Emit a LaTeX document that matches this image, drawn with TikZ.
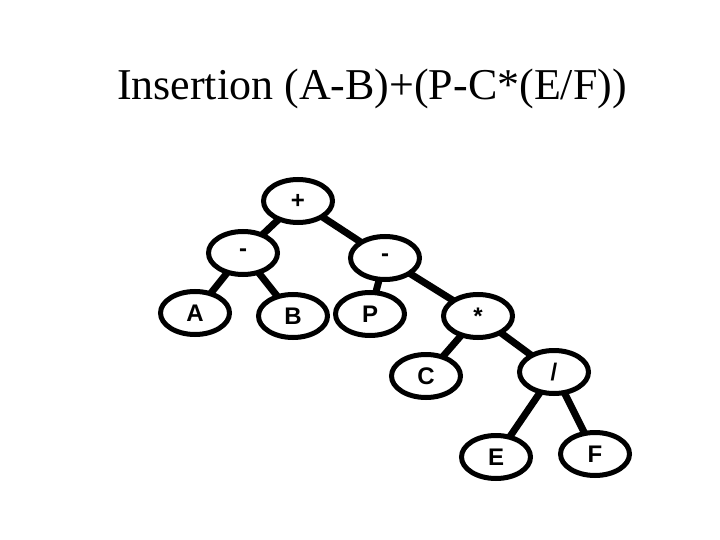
\documentclass[tikz,border=0pt]{standalone}
\usepackage{fontspec}
\setmainfont{Liberation Serif}
\newfontfamily\labelfont{Liberation Sans}
\usetikzlibrary{shapes.geometric,backgrounds}
\tikzset{
  tnode/.style={ellipse,draw=black,line width=5pt,fill=white,minimum width=69pt,minimum height=43pt,inner sep=0pt},
  tedge/.style={line width=7pt,black}}
\newcommand{\tlabel}[1]{{\labelfont\bfseries\fontsize{24}{26}\selectfont #1}}
\begin{document}
\begin{tikzpicture}[x=1pt,y=-1pt]
\useasboundingbox (0,0) rectangle (720,540);
\node[anchor=base,font=\fontsize{44}{50}\selectfont] (title) at (372,100) {Insertion (A-B)+(P-C*(E/F))};
\node[tnode] (plus) at (298,201) {\tlabel{+}};
\node[tnode] (m1) at (243,253) {\tlabel{-}};
\node[tnode] (m2) at (385,258) {\tlabel{-}};
\node[tnode] (a) at (195,313) {\tlabel{A}};
\node[tnode] (b) at (293,316) {\tlabel{B}};
\node[tnode] (p) at (370,314) {\tlabel{P}};
\node[tnode] (star) at (478,316) {\tlabel{*}};
\node[tnode] (c) at (426,376) {\tlabel{C}};
\node[tnode] (div) at (554,372) {\tlabel{/}};
\node[tnode] (e) at (496,457) {\tlabel{E}};
\node[tnode] (f) at (595,454) {\tlabel{F}};
\begin{scope}[on background layer]
\draw[tedge] (plus.center) -- (m1.center);
\draw[tedge] (plus.center) -- (m2.center);
\draw[tedge] (m1.center) -- (a.center);
\draw[tedge] (m1.center) -- (b.center);
\draw[tedge] (m2.center) -- (p.center);
\draw[tedge] (m2.center) -- (star.center);
\draw[tedge] (star.center) -- (c.center);
\draw[tedge] (star.center) -- (div.center);
\draw[tedge] (div.center) -- (e.center);
\draw[tedge] (div.center) -- (f.center);
\end{scope}
\end{tikzpicture}
\end{document}
